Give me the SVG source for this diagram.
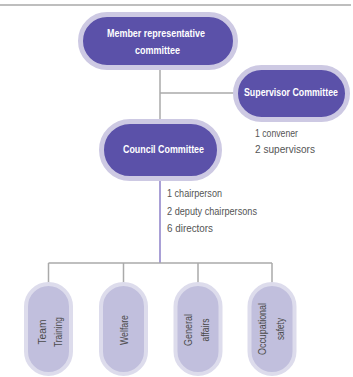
<svg xmlns="http://www.w3.org/2000/svg" width="353" height="377" viewBox="0 0 353 377">
<style>
.dark{fill:#5b51a9;stroke:#cdc9e3;stroke-width:5}
.light{fill:#c1bfdd;stroke:#dddcec;stroke-width:4}
.wt{font-family:"Liberation Sans",Arial,sans-serif;font-weight:bold;font-size:10.5px;fill:#ffffff}
.nt{font-family:"Liberation Sans",Arial,sans-serif;font-size:10px;fill:#555555}
.pt{font-family:"Liberation Sans",Arial,sans-serif;font-size:10.5px;fill:#4a4a4a}
.ln{stroke:#aaaaaa;stroke-width:1.5;fill:none}
</style>
<line x1="0" y1="5" x2="351" y2="5" stroke="#a8a8a8" stroke-width="1.5"/>
<g id="connectors">
<line class="ln" x1="160" y1="68" x2="160" y2="120"/>
<line class="ln" x1="160" y1="93" x2="235" y2="93"/>
<line x1="160" y1="180" x2="160" y2="263" stroke="#8d80c8" stroke-width="1.5"/>
<line class="ln" x1="48.5" y1="263" x2="272" y2="263"/>
<line class="ln" x1="48.5" y1="263" x2="48.5" y2="283"/>
<line class="ln" x1="123.5" y1="263" x2="123.5" y2="283"/>
<line class="ln" x1="198" y1="263" x2="198" y2="283"/>
<line class="ln" x1="272" y1="263" x2="272" y2="283"/>
</g>
<g id="member">
<rect class="dark" x="80.5" y="14.5" width="155" height="53" rx="26.5"/>
<text class="wt" x="107" y="37" textLength="98" lengthAdjust="spacingAndGlyphs">Member representative</text>
<text class="wt" x="135" y="54" textLength="45" lengthAdjust="spacingAndGlyphs">committee</text>
</g>
<g id="supervisor">
<rect class="dark" x="235.5" y="67.5" width="112" height="52" rx="26"/>
<text class="wt" transform="translate(244,96) scale(0.839,1)" x="0" y="0">Supervisor Committee</text>
<text class="nt" x="255" y="137" textLength="43" lengthAdjust="spacingAndGlyphs">1 convener</text>
<text class="nt" x="255" y="153" textLength="60" lengthAdjust="spacingAndGlyphs">2 supervisors</text>
</g>
<g id="council">
<rect class="dark" x="101.5" y="121.5" width="118" height="57" rx="28.5"/>
<text class="wt" x="123" y="153" textLength="81" lengthAdjust="spacingAndGlyphs">Council Committee</text>
<text class="nt" x="167" y="197" textLength="55" lengthAdjust="spacingAndGlyphs">1 chairperson</text>
<text class="nt" x="167" y="215" textLength="90" lengthAdjust="spacingAndGlyphs">2 deputy chairpersons</text>
<text class="nt" x="167" y="232" textLength="46" lengthAdjust="spacingAndGlyphs">6 directors</text>
</g>
<g id="team-training">
<rect class="light" x="26" y="284" width="45" height="90" rx="22.5"/>
<text class="pt" transform="translate(48.5,332) rotate(-90)"><tspan x="-12.5" y="-2.5" textLength="25" lengthAdjust="spacingAndGlyphs">Team</tspan><tspan x="-15" y="13" textLength="30" lengthAdjust="spacingAndGlyphs">Training</tspan></text>
</g>
<g id="welfare">
<rect class="light" x="101" y="284" width="45" height="90" rx="22.5"/>
<text class="pt" transform="translate(123.5,330) rotate(-90)"><tspan x="-15" y="4" textLength="30" lengthAdjust="spacingAndGlyphs">Welfare</tspan></text>
</g>
<g id="general-affairs">
<rect class="light" x="175.5" y="284" width="45" height="90" rx="22.5"/>
<text class="pt" transform="translate(198,330) rotate(-90)"><tspan x="-16" y="-6" textLength="32" lengthAdjust="spacingAndGlyphs">General</tspan><tspan x="-11.5" y="11" textLength="23" lengthAdjust="spacingAndGlyphs">affairs</tspan></text>
</g>
<g id="occupational-safety">
<rect class="light" x="249.5" y="284" width="45" height="90" rx="22.5"/>
<text class="pt" transform="translate(272,329) rotate(-90)"><tspan x="-26" y="-6" textLength="52" lengthAdjust="spacingAndGlyphs">Occupational</tspan><tspan x="-11" y="12" textLength="22" lengthAdjust="spacingAndGlyphs">safety</tspan></text>
</g>
</svg>
